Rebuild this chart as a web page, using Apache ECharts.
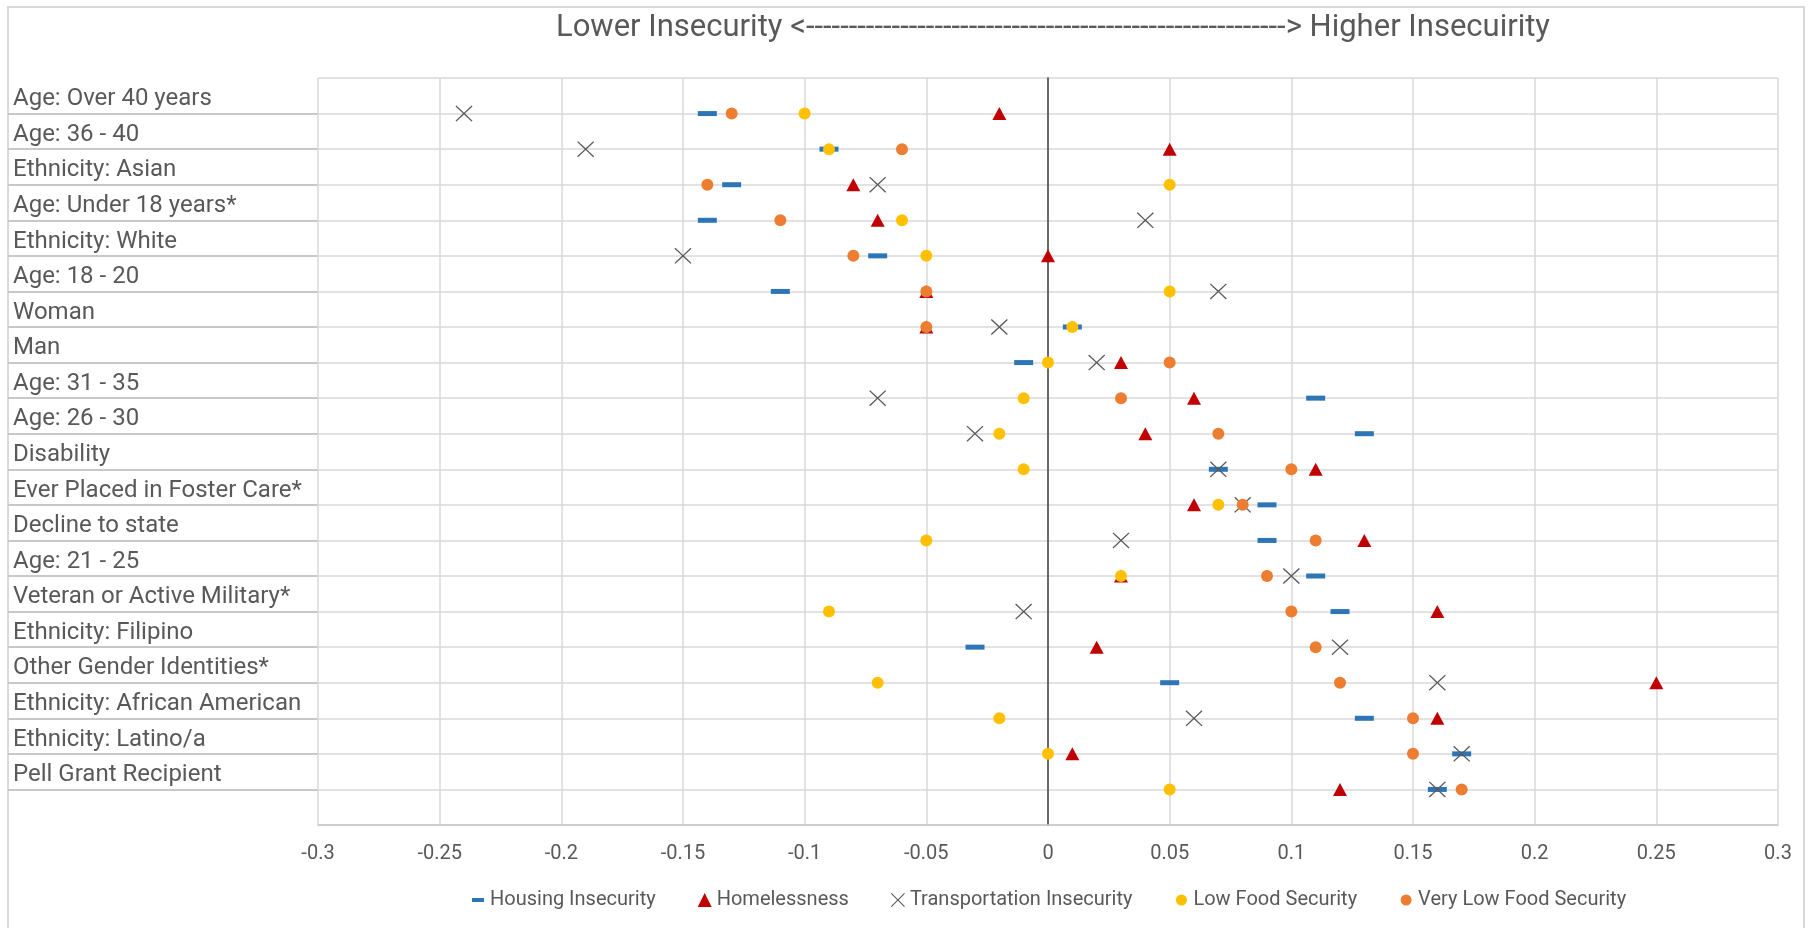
<!DOCTYPE html>
<html>
<head>
<meta charset="utf-8">
<script src="https://cdn.jsdelivr.net/npm/echarts@6/dist/echarts.min.js"></script>
<style>
  html, body { margin: 0; padding: 0; background: #fff; }
  #chart { width: 1813px; height: 928px; }
</style>
</head>
<body>
<div id="chart"></div>
<script>
// Groups, listed from the top row of the chart to the bottom row
const categories = [
  "Age: Over 40 years", "Age: 36 - 40", "Ethnicity: Asian", "Age: Under 18 years*",
  "Ethnicity: White", "Age: 18 - 20", "Woman", "Man", "Age: 31 - 35", "Age: 26 - 30",
  "Disability", "Ever Placed in Foster Care*", "Decline to state", "Age: 21 - 25",
  "Veteran or Active Military*", "Ethnicity: Filipino", "Other Gender Identities*",
  "Ethnicity: African American", "Ethnicity: Latino/a", "Pell Grant Recipient"
];

// Difference from the overall rate, per group (same order as categories)
const housingInsecurity = [-0.14, -0.09, -0.13, -0.14, -0.07, -0.11, 0.01, -0.01, 0.11, 0.13,
  0.07, 0.09, 0.09, 0.11, 0.12, -0.03, 0.05, 0.13, 0.17, 0.16];
const homelessness = [-0.02, 0.05, -0.08, -0.07, 0, -0.05, -0.05, 0.03, 0.06, 0.04,
  0.11, 0.06, 0.13, 0.03, 0.16, 0.02, 0.25, 0.16, 0.01, 0.12];
const transportationInsecurity = [-0.24, -0.19, -0.07, 0.04, -0.15, 0.07, -0.02, 0.02, -0.07, -0.03,
  0.07, 0.08, 0.03, 0.10, -0.01, 0.12, 0.16, 0.06, 0.17, 0.16];
const lowFoodSecurity = [-0.10, -0.09, 0.05, -0.06, -0.05, 0.05, 0.01, 0, -0.01, -0.02,
  -0.01, 0.07, -0.05, 0.03, -0.09, null, -0.07, -0.02, 0, 0.05];
const veryLowFoodSecurity = [-0.13, -0.06, -0.14, -0.11, -0.08, -0.05, -0.05, 0.05, 0.03, 0.07,
  0.10, 0.08, 0.11, 0.09, 0.10, 0.11, 0.12, 0.15, 0.15, 0.17];

// Horizontal scale
const xMin = -0.3, xMax = 0.3, xStep = 0.05;

const titleText = "Lower Insecurity <" + "-".repeat(56) + "> Higher Insecuirity";

const FONT = "Roboto";
const TEXT = "#595959";
const rowCount = categories.length;

// each group sits on its own grid line; the top group gets the highest value
function toPoints(values) {
  const pts = [];
  values.forEach((v, i) => { if (v !== null) pts.push([v, rowCount - i]); });
  return pts;
}

const xMark = 'path://M0,0.55L0.55,0L5,4.45L9.45,0L10,0.55L5.55,5L10,9.45L9.45,10L5,5.55L0.55,10L0,9.45L4.45,5Z';
const dotIcon = 'path://M0,0L0,0M14,14L14,14M1.5,7A5.5,5.5,0,1,1,12.5,7A5.5,5.5,0,1,1,1.5,7Z';

const seriesDefs = [
  { name: "Housing Insecurity", data: housingInsecurity, symbol: 'rect', size: [19, 5], color: '#2E75B6',
    icon: 'path://M0,0L0,0M14,14L14,14M1,5H13V9H1Z' },
  { name: "Homelessness", data: homelessness, symbol: 'triangle', size: [14, 13], color: '#C00000',
    icon: 'triangle' },
  { name: "Transportation Insecurity", data: transportationInsecurity, symbol: xMark, size: [17, 16], color: '#595959',
    icon: xMark },
  { name: "Low Food Security", data: lowFoodSecurity, symbol: 'circle', size: 12, color: '#FFC000',
    icon: dotIcon },
  { name: "Very Low Food Security", data: veryLowFoodSecurity, symbol: 'circle', size: 12, color: '#ED7D31',
    icon: dotIcon }
];

const plotTop = 78, plotBottom = 825;
const band = (plotBottom - plotTop) / (rowCount + 1);

const chart = echarts.init(document.getElementById('chart'), null, { renderer: 'canvas' });

chart.setOption({
  animation: false,
  backgroundColor: '#ffffff',
  graphic: [{
    type: 'rect', silent: true, z: -10,
    shape: { x: 8, y: 7, width: 1796, height: 940 },
    style: { fill: 'none', stroke: '#d9d9d9', lineWidth: 2 }
  }],
  title: {
    text: titleText,
    left: 1048, top: 5, textAlign: 'center',
    textStyle: { fontFamily: FONT, fontSize: 31, fontWeight: 'normal', color: TEXT, lineHeight: 37 }
  },
  legend: {
    left: 471, top: 890, padding: 0,
    itemWidth: 14, itemHeight: 14, itemGap: 42,
    textStyle: { fontFamily: FONT, fontSize: 20, color: TEXT },
    data: seriesDefs.map(s => ({ name: s.name, icon: s.icon }))
  },
  grid: [
    { left: 318, right: 35, top: plotTop, bottom: 928 - plotBottom },
    { left: 8, width: 310, top: plotTop + band, bottom: 928 - plotBottom + band }
  ],
  xAxis: [
    {
      type: 'value', gridIndex: 0, min: xMin, max: xMax, interval: xStep,
      axisLine: { show: true, onZero: false, lineStyle: { color: '#c8c8c8', width: 1.5 } },
      axisTick: { show: false },
      splitLine: { show: true, lineStyle: { color: '#d9d9d9', width: 1.5 } },
      axisLabel: { margin: 19, fontFamily: FONT, fontSize: 20, color: TEXT }
    },
    { type: 'value', gridIndex: 1, min: 0, max: 1, show: false }
  ],
  yAxis: [
    {
      type: 'value', gridIndex: 0, min: 0, max: rowCount + 1, interval: 1,
      axisLine: { show: true, onZero: true, lineStyle: { color: '#404040', width: 1.5 } },
      axisTick: { show: false },
      axisLabel: { show: false },
      splitLine: { show: true, lineStyle: { color: '#d9d9d9', width: 1.5 } }
    },
    {
      // label column: each name sits in the cell just above its grid line
      type: 'value', gridIndex: 1, min: 1, max: rowCount, interval: 1,
      axisLine: { show: false },
      axisTick: { show: false },
      splitLine: { show: true, lineStyle: { color: '#c8c8c8', width: 2 } },
      axisLabel: {
        inside: true, margin: 5, align: 'left', verticalAlign: 'bottom',
        lineHeight: 28.6, showMinLabel: true, showMaxLabel: true,
        fontFamily: FONT, fontSize: 24, color: TEXT,
        formatter: v => categories[rowCount - v] || ''
      }
    }
  ],
  series: seriesDefs.map(s => ({
    name: s.name, type: 'scatter', xAxisIndex: 0, yAxisIndex: 0,
    symbol: s.symbol, symbolSize: s.size,
    itemStyle: { color: s.color, opacity: 1 },
    emphasis: { disabled: true },
    data: toPoints(s.data)
  }))
});
</script>
</body>
</html>
